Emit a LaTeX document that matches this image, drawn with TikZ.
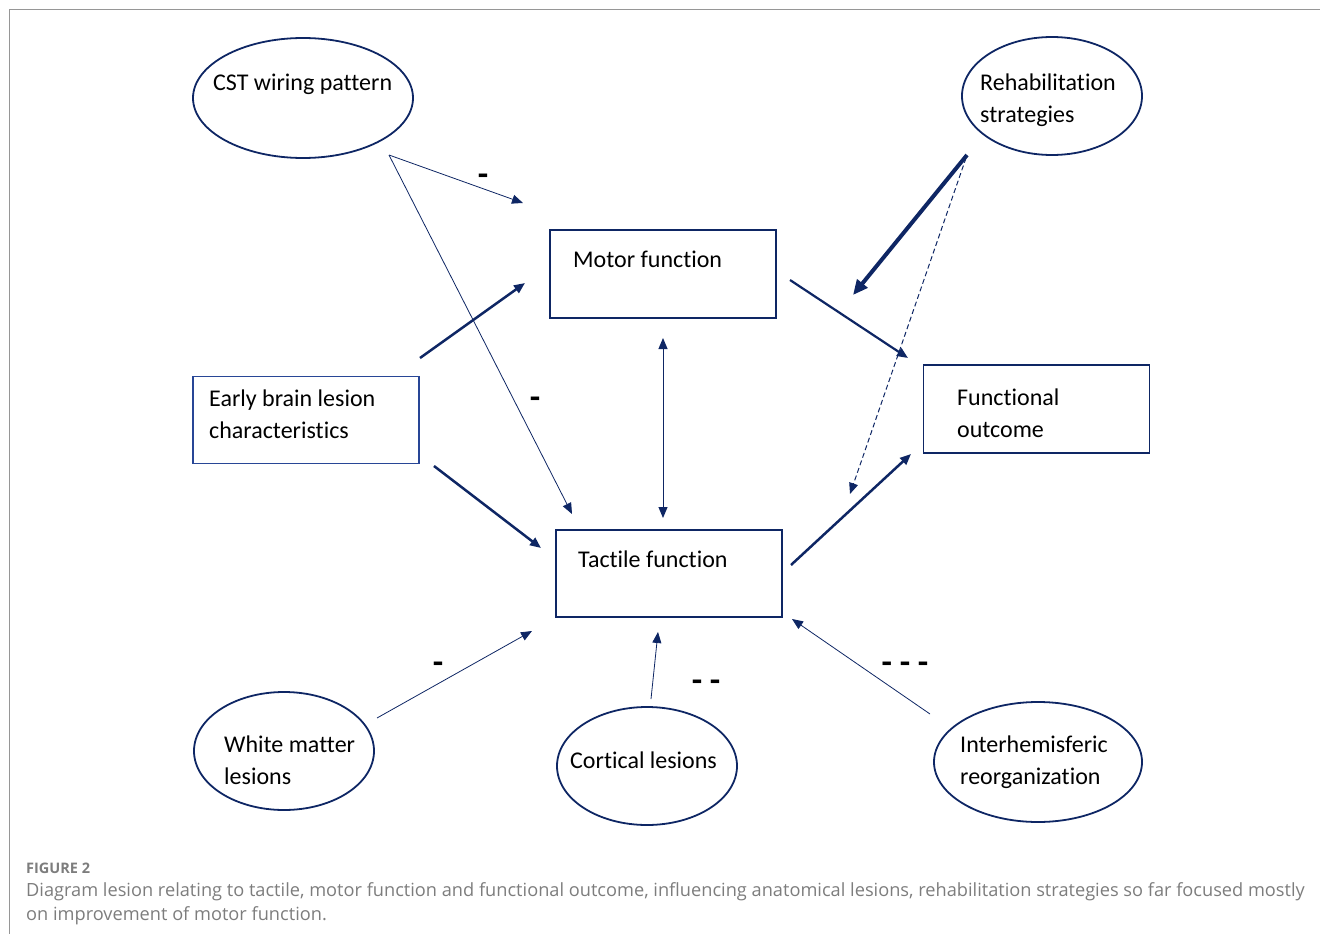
\documentclass[tikz,border=0pt]{standalone}
\usepackage{fontspec}
\setmainfont[Ligatures=NoCommon]{Carlito}
\newfontfamily\capfont{Open Sans}
\usepackage{tikz}
\usetikzlibrary{positioning,arrows.meta,shapes.geometric}
\definecolor{navy}{RGB}{14,38,100}
\definecolor{boxblue}{RGB}{40,70,150}
\definecolor{capgray}{RGB}{125,125,125}
\definecolor{framegray}{RGB}{150,150,150}

\tikzset{
  box/.style={draw=navy, line width=1.8pt, minimum width=226pt, minimum height=88pt},
  blob/.style={ellipse, draw=navy, line width=1.8pt},
  txt/.style={anchor=west, align=left, inner sep=0pt, font=\fontsize{24}{32}\selectfont},
  lnk/.style={draw=navy, -{Triangle[length=11pt,width=9pt]}},
  sign/.style={inner sep=0pt, font=\bfseries\fontsize{34}{34}\selectfont},
}

\begin{document}
\begin{tikzpicture}[x=1pt,y=-1pt]
  \useasboundingbox (0,0) rectangle (1320,934);
  % Rahmen
  \draw[framegray, line width=1pt] (9,934) -- (9,10) -- (1320,10);

  % Kästen
  \node[box] (motor) at (663,274) {};
  \node[box, draw=boxblue, minimum height=87pt] (early) at (306,420) {};
  \node[box] (outcome) at (1036.5,409) {};
  \node[box, minimum height=87pt] (tactile) at (669,573.5) {};
  \node[txt] (motorT) at (573,259) {Motor function};
  \node[txt] (earlyT) at (209,414) {Early brain lesion\\characteristics};
  \node[txt] (outcomeT) at (957,413) {Functional\\outcome};
  \node[txt] (tactileT) at (578,559) {Tactile function};

  % Ellipsen
  \node[blob, minimum width=220pt, minimum height=120pt] (cst) at (303,98) {};
  \node[blob, minimum width=180pt, minimum height=118pt] (rehab) at (1052,96) {};
  \node[blob, minimum width=180pt, minimum height=118pt] (white) at (284,751) {};
  \node[blob, minimum width=180pt, minimum height=118pt] (cortical) at (647,766) {};
  \node[blob, minimum width=208pt, minimum height=120pt] (inter) at (1038,762) {};
  \node[txt] (cstT) at (213,84) {CST wiring pattern};
  \node[txt] (rehabT) at (980,100) {Rehabilitation\\strategies};
  \node[txt] (whiteT) at (224,760) {White matter\\lesions};
  \node[txt] (corticalT) at (570,760) {Cortical lesions};
  \node[txt] (interT) at (960,762) {Interhemisferic\\reorganization};

  % Endpunkte
  \coordinate (cstOut) at (389,155);
  \coordinate (motorIn1) at (523,203);
  \coordinate (tactileIn1) at (572,514);
  \coordinate (earlyOut1) at (420,358);
  \coordinate (motorIn2) at (525,283);
  \coordinate (earlyOut2) at (434,466);
  \coordinate (tactileIn2) at (541,548);
  \coordinate (motorBot) at (663,338);
  \coordinate (tactileTop) at (663,518);
  \coordinate (motorOut) at (790,280);
  \coordinate (outcomeIn1) at (908,358);
  \coordinate (rehabOut) at (967,155);
  \coordinate (rehabTo) at (853,295);
  \coordinate (rehabOut2) at (966,158);
  \coordinate (rehabTo2) at (850,494);
  \coordinate (tactileOut) at (791,565);
  \coordinate (outcomeIn2) at (911,454);
  \coordinate (whiteOut) at (377,718);
  \coordinate (tactileIn3) at (532,631);
  \coordinate (corticalOut) at (651,699);
  \coordinate (tactileIn4) at (658,632);
  \coordinate (interOut) at (930,714);
  \coordinate (tactileIn5) at (792,619);

  % Pfeile
  \draw[lnk, line width=0.8pt] (cstOut) -- (motorIn1);
  \draw[lnk, line width=0.8pt] (cstOut) -- (tactileIn1);
  \draw[lnk, line width=2.5pt] (earlyOut1) -- (motorIn2);
  \draw[lnk, line width=2.5pt] (earlyOut2) -- (tactileIn2);
  \draw[draw=navy, line width=1pt, {Triangle[length=11pt,width=9pt]}-{Triangle[length=11pt,width=9pt]}] (motorBot) -- (tactileTop);
  \draw[lnk, line width=2.2pt] (motorOut) -- (outcomeIn1);
  \draw[lnk, line width=4pt, -{Triangle[length=15pt,width=13pt]}] (rehabOut) -- (rehabTo);
  \draw[lnk, line width=1pt, dash pattern=on 5pt off 3pt] (rehabOut2) -- (rehabTo2);
  \draw[lnk, line width=2.5pt] (tactileOut) -- (outcomeIn2);
  \draw[lnk, line width=0.8pt] (whiteOut) -- (tactileIn3);
  \draw[lnk, line width=0.8pt] (corticalOut) -- (tactileIn4);
  \draw[lnk, line width=0.8pt] (interOut) -- (tactileIn5);

  % Vorzeichen
  \node[sign] (s1) at (483,180) {-};
  \node[sign] (s2) at (535,403) {-};
  \node[sign] (s3) at (438,668) {-};
  \node[sign] (s4) at (706,686) {- -};
  \node[sign] (s5) at (905,668) {- - -};

  % Bildunterschrift
  \node[anchor=west, inner sep=0pt, text=capgray, font=\capfont\bfseries\fontsize{14.5}{14.5}\selectfont] (figno) at (26,868) {FIGURE 2};
  \node[anchor=west, align=left, inner sep=0pt, text=capgray, font=\capfont\fontsize{18.2}{24}\selectfont] (caption) at (26,904)
    {Diagram lesion relating to tactile, motor function and functional outcome, influencing anatomical lesions, rehabilitation strategies so far focused mostly\\on improvement of motor function.};
\end{tikzpicture}
\end{document}
